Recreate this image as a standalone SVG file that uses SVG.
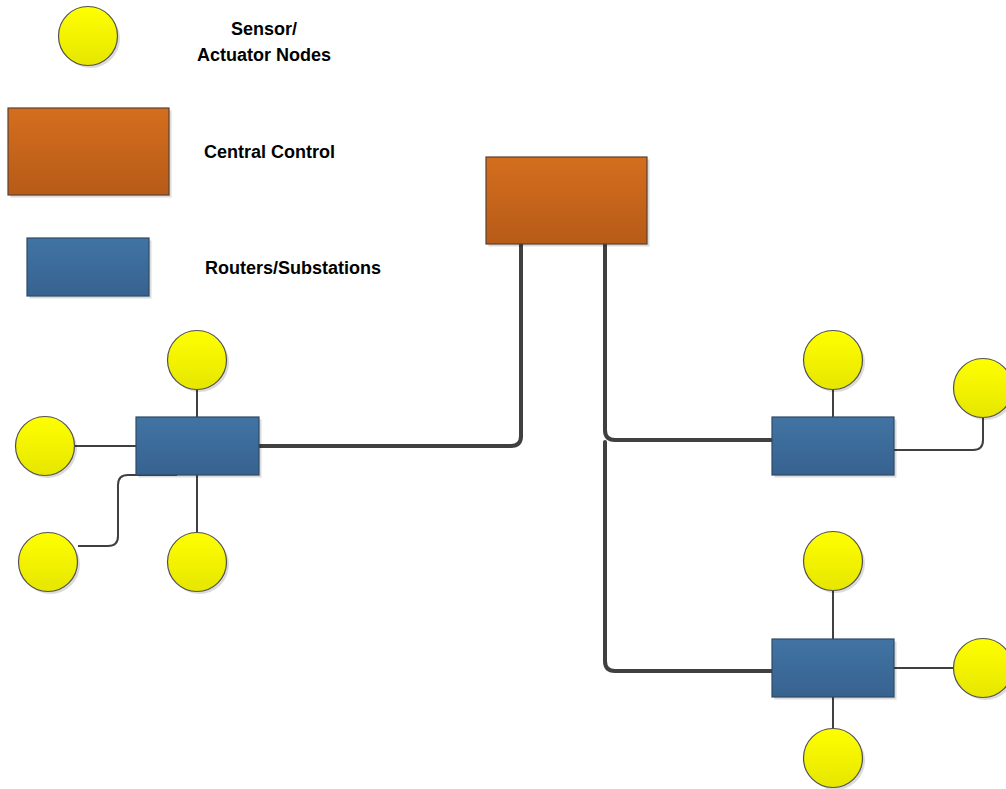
<svg xmlns="http://www.w3.org/2000/svg" width="1006" height="789" viewBox="0 0 1006 789">
<style>
.lbl{font-family:"Liberation Sans",Arial,sans-serif;font-weight:bold;font-size:18px;fill:#000}
.sen{fill:url(#gy);stroke:#505050;stroke-width:1.2}
.ctl{fill:url(#go);stroke:#5a4030;stroke-width:1.2}
.rtr{fill:url(#gb);stroke:#2e4a66;stroke-width:1.2}
.sh{fill:#000;opacity:0.14}
.thin{fill:none;stroke:#404040;stroke-width:2}
.thick{fill:none;stroke:#404040;stroke-width:4;stroke-linecap:round}
</style>
<defs>
<linearGradient id="gy" x1="0" y1="0" x2="0" y2="1"><stop offset="0" stop-color="#ffff00"/><stop offset="1" stop-color="#e6e600"/></linearGradient>
<linearGradient id="go" x1="0" y1="0" x2="0" y2="1"><stop offset="0" stop-color="#d46e1e"/><stop offset="1" stop-color="#b75b18"/></linearGradient>
<linearGradient id="gb" x1="0" y1="0" x2="0" y2="1"><stop offset="0" stop-color="#4174a3"/><stop offset="1" stop-color="#376290"/></linearGradient>
</defs>
<rect width="1006" height="789" fill="#fff"/>

<g id="connectors">
<path class="thick" d="M259,446 H511 Q521,446 521,436 V244"/>
<path class="thick" d="M605,244 V430 Q605,440 615,440 H772"/>
<path class="thick" d="M605,442 V661 Q605,671 615,671 H772"/>
<path class="thin" d="M197,389 V417"/>
<path class="thin" d="M75,446 H136"/>
<path class="thin" d="M197,475 V533"/>
<path class="thin" d="M177,475 H128 Q118,475 118,485 V536 Q118,546 108,546 H78"/>
<path class="thin" d="M833,389 V417"/>
<path class="thin" d="M894,450 H973 Q983,450 983,440 V417"/>
<path class="thin" d="M833,590 V639"/>
<path class="thin" d="M894,668 H954"/>
<path class="thin" d="M833,697 V729"/>
</g>

<g id="legend-sensor"><circle class="sh" cx="90.5" cy="38.5" r="29.5"/><circle class="sen" cx="88" cy="36" r="29.5"/></g>
<g id="legend-control"><rect class="sh" x="10.5" y="110.5" width="161" height="87"/><rect class="ctl" x="8" y="108" width="161" height="87"/></g>
<g id="legend-router"><rect class="sh" x="29.5" y="240.5" width="122" height="58"/><rect class="rtr" x="27" y="238" width="122" height="58"/></g>
<g id="legend-text">
<text class="lbl" x="264" y="35" text-anchor="middle">Sensor/</text>
<text class="lbl" x="264" y="61" text-anchor="middle">Actuator Nodes</text>
<text class="lbl" x="204" y="158">Central Control</text>
<text class="lbl" x="205" y="274">Routers/Substations</text>
</g>

<g id="central-control"><rect class="sh" x="488.5" y="159.5" width="161" height="87"/><rect class="ctl" x="486" y="157" width="161" height="87"/></g>

<g id="router-left"><rect class="sh" x="138.5" y="419.5" width="123" height="58"/><rect class="rtr" x="136" y="417" width="123" height="58"/></g>
<g id="router-right-top"><rect class="sh" x="774.5" y="419.5" width="122" height="58"/><rect class="rtr" x="772" y="417" width="122" height="58"/></g>
<g id="router-right-bottom"><rect class="sh" x="774.5" y="641.5" width="122" height="58"/><rect class="rtr" x="772" y="639" width="122" height="58"/></g>

<g id="sensor-l-top"><circle class="sh" cx="199.5" cy="362.5" r="29.5"/><circle class="sen" cx="197" cy="360" r="29.5"/></g>
<g id="sensor-l-left"><circle class="sh" cx="47.5" cy="448.5" r="29.5"/><circle class="sen" cx="45" cy="446" r="29.5"/></g>
<g id="sensor-l-bottomleft"><circle class="sh" cx="50.5" cy="564.5" r="29.5"/><circle class="sen" cx="48" cy="562" r="29.5"/></g>
<g id="sensor-l-bottom"><circle class="sh" cx="199.5" cy="564.5" r="29.5"/><circle class="sen" cx="197" cy="562" r="29.5"/></g>
<g id="sensor-rt-top"><circle class="sh" cx="835.5" cy="362.5" r="29.5"/><circle class="sen" cx="833" cy="360" r="29.5"/></g>
<g id="sensor-rt-right"><circle class="sh" cx="985.5" cy="390.5" r="29.5"/><circle class="sen" cx="983" cy="388" r="29.5"/></g>
<g id="sensor-rb-top"><circle class="sh" cx="835.5" cy="563.5" r="29.5"/><circle class="sen" cx="833" cy="561" r="29.5"/></g>
<g id="sensor-rb-right"><circle class="sh" cx="985.5" cy="670.5" r="29.5"/><circle class="sen" cx="983" cy="668" r="29.5"/></g>
<g id="sensor-rb-bottom"><circle class="sh" cx="835.5" cy="760.5" r="29.5"/><circle class="sen" cx="833" cy="758" r="29.5"/></g>
</svg>
